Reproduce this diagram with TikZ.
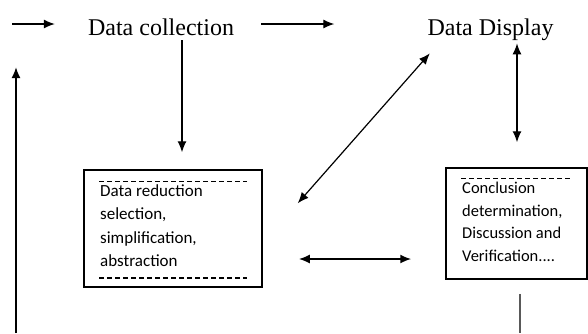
\documentclass[tikz,border=0pt]{standalone}
\usepackage{fontspec}
\setmainfont{Liberation Serif}
\newfontfamily\boxfont{Carlito}
\usepackage{tikz}
\usetikzlibrary{arrows.meta,calc}
\tikzstyle{l1}=[line width=1.2]
\tikzstyle{l2}=[line width=1.5]
\tikzstyle{title}=[inner sep=0pt, anchor=base, font=\fontsize{24}{28}\selectfont]
\tikzstyle{box}=[rectangle, draw=black, l2, inner sep=0pt]
\tikzstyle{boxtext}=[inner sep=0pt, align=left, anchor=north west]
\tikzstyle{flow}=[l1, >={Latex[length=11pt,width=9pt]}]
\tikzstyle{sep}=[l2, dash pattern=on 5pt off 3pt]
\tikzstyle{tail}=[line width=2, color=black!65]

\begin{document}
\begin{tikzpicture}[x=1pt, y=-1pt]
    \useasboundingbox (0,0) rectangle (588,333);

    \node (collect) [title] at (161,35) {Data collection};
    \node (display) [title] at (490.5,35) {Data Display};

    \node (reduce) [box, minimum width=178, minimum height=117] at (173,228.5) {};
    \node (reducetext) [boxtext, font=\boxfont\fontsize{17}{23.5}\selectfont] at (100,184)
        {Data reduction\\selection,\\simplification,\\abstraction};
    \draw[sep] ($(reduce.north west)+(16,12)$) -- ($(reduce.north east)+(-16,12)$);
    \draw[sep] ($(reduce.south west)+(16,-10)$) -- ($(reduce.south east)+(-16,-10)$);

    \node (concl) [box, minimum width=141, minimum height=111] at (516.5,223.5) {};
    \node (concltext) [boxtext, font=\boxfont\fontsize{16.5}{22.5}\selectfont] at (462,182)
        {Conclusion\\determination,\\Discussion and\\Verification....};
    \draw[sep] ($(concl.north west)+(16,11)$) -- ($(concl.north east)+(-17,11)$);

    \coordinate (entry) at (12,24);
    \coordinate (loopfoot) at (16,333);
    \coordinate (looptop) at (16,67);

    \draw[flow, ->, shorten >=33pt] (entry) -- (entry -| collect.west);
    \draw[flow, ->, shorten <=27pt, shorten >=93pt] (entry -| collect.east) -- (entry -| display.west);
    \draw[flow, ->] ($(collect.south)+(21,5)$) -- ($(reduce.north)+(9,-17)$);
    \draw[flow, <->] ($(display.south)+(26.5,3)$) -- ($(concl.north)+(0.5,-25)$);
    \draw[flow, <->] ($(reduce.north east)+(35,34)$) -- ($(display.south west)+(2.5,13)$);
    \draw[flow, <->, line width=1.8] ($(reduce.east)+(36,30.5)$) -- ($(concl.west)+(-34,35.5)$);
    \draw[flow, ->, line width=1.8] (loopfoot) -- (looptop);
    \draw[tail] ($(concl.south)+(3.5,14)$) -- ($(concl.south |- loopfoot)+(3.5,0)$);

\end{tikzpicture}
\end{document}
